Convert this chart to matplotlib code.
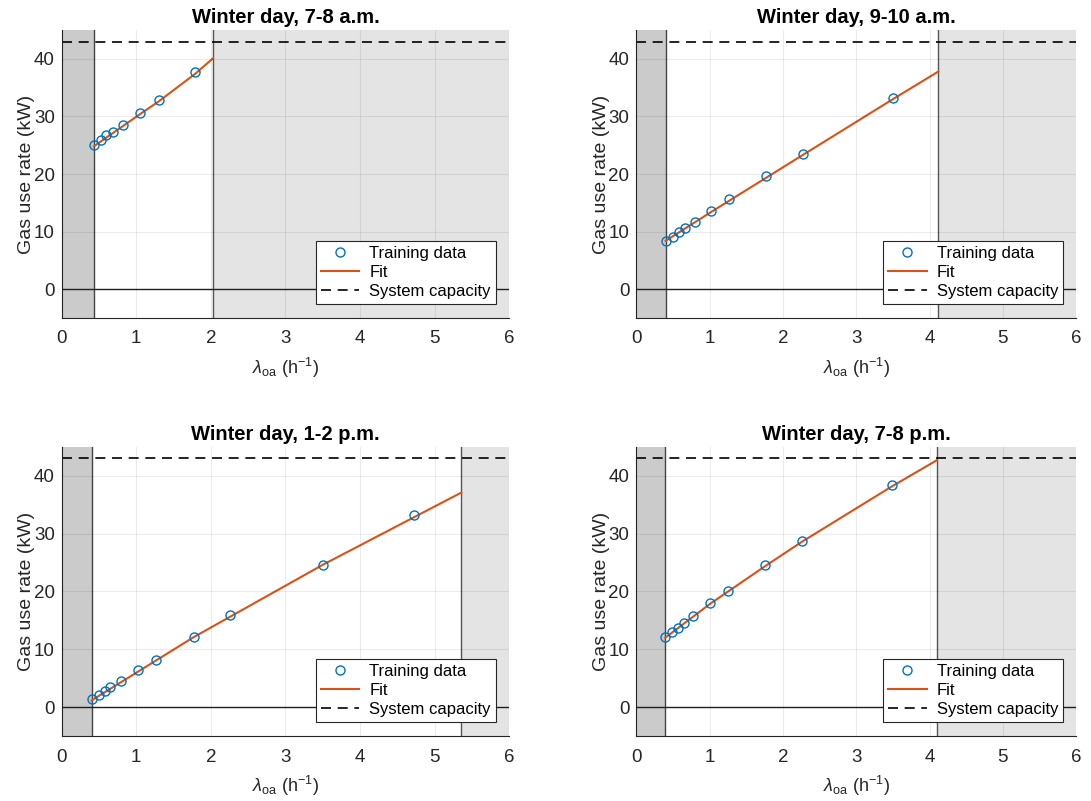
import matplotlib
matplotlib.use('Agg')
from matplotlib import pyplot as plt

plt.rcParams['font.family'] = ['Liberation Sans', 'DejaVu Sans']
plt.rcParams['mathtext.fontset'] = 'custom'
plt.rcParams['mathtext.rm'] = 'Liberation Sans'
plt.rcParams['mathtext.it'] = 'Liberation Sans:italic'

# 各子图的数据
titles = ['Winter day, 7-8 a.m.', 'Winter day, 9-10 a.m.',
          'Winter day, 1-2 p.m.', 'Winter day, 7-8 p.m.']

am7_x = [0.43, 0.52, 0.595, 0.685, 0.82, 1.05, 1.30, 1.79]
am7_y = [25.0, 25.9, 26.7, 27.3, 28.5, 30.6, 32.8, 37.7]
am7_fit_x = [0.43, 1.05, 1.30, 1.79, 2.03]
am7_fit_y = [24.8, 30.4, 32.6, 37.4, 40.1]
am7_lim = [0.43, 2.03]

am9_x = [0.40, 0.495, 0.58, 0.66, 0.795, 1.02, 1.27, 1.77, 2.27, 3.50]
am9_y = [8.35, 9.1, 9.9, 10.55, 11.7, 13.6, 15.6, 19.6, 23.5, 33.2]
am9_fit_x = [0.40, 1.02, 2.27, 3.50, 4.12]
am9_fit_y = [8.4, 13.4, 23.3, 33.0, 37.8]
am9_lim = [0.405, 4.12]

pm1_x = [0.40, 0.50, 0.58, 0.65, 0.80, 1.02, 1.27, 1.77, 2.26, 3.50, 4.73]
pm1_y = [1.33, 2.03, 2.78, 3.42, 4.57, 6.37, 8.22, 12.16, 15.9, 24.66, 33.2]
pm1_fit_x = [0.40, 1.77, 3.50, 5.36]
pm1_fit_y = [1.16, 12.1, 24.6, 37.1]
pm1_lim = [0.40, 5.36]

pm7_x = [0.395, 0.49, 0.565, 0.645, 0.78, 1.00, 1.255, 1.76, 2.26, 3.49]
pm7_y = [12.04, 12.97, 13.66, 14.59, 15.8, 17.95, 20.0, 24.5, 28.65, 38.4]
pm7_fit_x = [0.395, 1.00, 1.76, 2.26, 3.49, 4.10]
pm7_fit_y = [12.0, 17.8, 24.4, 28.6, 38.2, 42.7]
pm7_lim = [0.395, 4.10]

capacity = 43.0

panels = [(am7_x, am7_y, am7_fit_x, am7_fit_y, am7_lim),
          (am9_x, am9_y, am9_fit_x, am9_fit_y, am9_lim),
          (pm1_x, pm1_y, pm1_fit_x, pm1_fit_y, pm1_lim),
          (pm7_x, pm7_y, pm7_fit_x, pm7_fit_y, pm7_lim)]

# 子图位置 [left, bottom, width, height]
positions = [[0.0566, 0.603, 0.410, 0.3595],
             [0.5832, 0.603, 0.4033, 0.3595],
             [0.0566, 0.0811, 0.410, 0.361],
             [0.5832, 0.0811, 0.4033, 0.361]]

fig = plt.figure(figsize=(10.91, 8.01), dpi=100)

for i in range(4):
    x, y, fx, fy, lim = panels[i]
    ax = fig.add_axes(positions[i])

    # 阴影区域
    ax.axvspan(0, lim[0], color='#cbcbcb', lw=0, zorder=0)
    ax.axvspan(lim[1], 6, color='#e4e4e4', lw=0, zorder=0)
    ax.axvline(lim[0], color='#444444', lw=1, zorder=1)
    ax.axvline(lim[1], color='#555555', lw=1, zorder=1)
    ax.axhline(0, color='#222222', lw=1, zorder=1)

    ax.plot(x, y, 'o', mfc='none', mec='#0072BD', ms=6.5, mew=1, label='Training data', zorder=3)
    ax.plot(fx, fy, '-', color='#D95319', lw=1.5, label='Fit', zorder=2)
    ax.axhline(capacity, color='black', ls=(0, (6, 4)), lw=1.2, label='System capacity', zorder=2)

    ax.set_xlim(0, 6)
    ax.set_ylim(-5, 45)
    ax.set_xticks(range(7))
    ax.set_yticks([0, 10, 20, 30, 40])
    ax.grid(True, color='#000000', alpha=0.08, lw=0.8)
    ax.set_axisbelow(False)
    ax.tick_params(labelsize=13.5, colors='#262626', direction='in', length=0)
    ax.tick_params(axis='x', pad=9)
    ax.tick_params(axis='y', pad=5)
    for s in ['top', 'right']:
        ax.spines[s].set_visible(False)
    for s in ['left', 'bottom']:
        ax.spines[s].set_color('#262626')
        ax.spines[s].set_linewidth(0.8)

    ax.set_title(titles[i], fontsize=14.5, fontweight='bold', pad=5)
    ax.set_ylabel('Gas use rate (kW)', fontsize=14, color='#262626', labelpad=-1)
    ax.set_xlabel(r'$\lambda_{\mathrm{oa}}$ (h$^{-1}$)', fontsize=13, color='#262626', labelpad=6)

    leg = ax.legend(loc='lower right', fontsize=12, frameon=True, fancybox=False,
                    edgecolor='#262626', framealpha=1, borderpad=0.3, labelspacing=0.25,
                    handlelength=2.3, handletextpad=0.6, borderaxespad=0,
                    bbox_to_anchor=(0.97, 0.048))
    leg.get_frame().set_linewidth(0.8)

plt.savefig('out.png', dpi=100)
